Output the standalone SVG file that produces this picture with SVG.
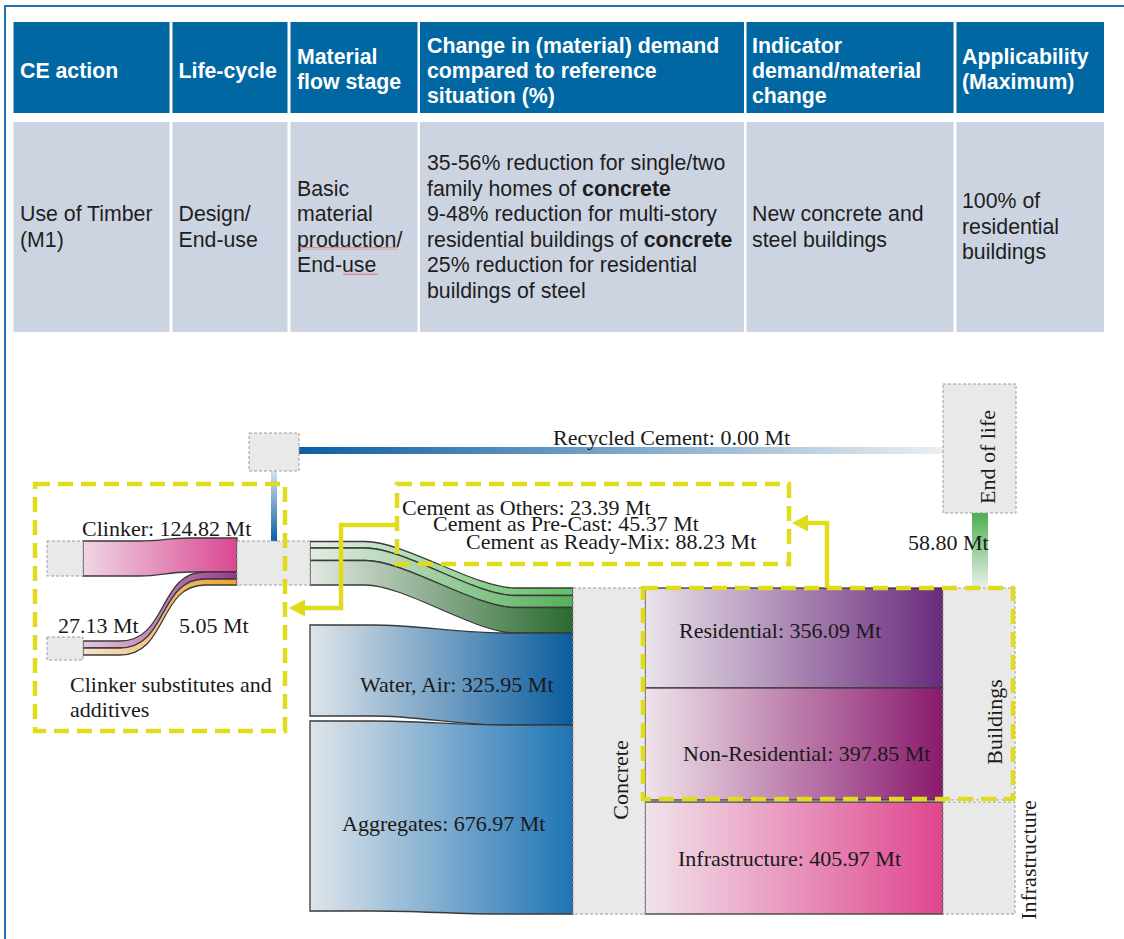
<svg xmlns="http://www.w3.org/2000/svg" width="1124" height="939" viewBox="0 0 1124 939">
<style>
.th{font-family:"Liberation Sans",Arial,sans-serif;font-size:21.3px;font-weight:bold;fill:#ffffff}
.td{font-family:"Liberation Sans",Arial,sans-serif;font-size:21.3px;fill:#1e1e1e}
.b{font-weight:bold}
.hd{fill:#0067a3}
.bd{fill:#cdd4e1}
.lbl{font-family:"Liberation Serif","Times New Roman",serif;font-size:22px;fill:#1a1a1a}
.node{fill:#e9e9e9;stroke:#9c9c9c;stroke-width:1;stroke-dasharray:3 2}
.flow{stroke:#3a3a3a;stroke-width:1.3}
.ybox{fill:none;stroke:#e0dc1c;stroke-width:4.5;stroke-dasharray:15 8}
.yarr{fill:none;stroke:#e0dc1c;stroke-width:4.5}
</style>
<defs>
<linearGradient id="gClinker" x1="0" y1="0" x2="1" y2="0"><stop offset="0" stop-color="#efd6e4"/><stop offset="1" stop-color="#da4792"/></linearGradient>
<linearGradient id="gPurple" x1="0" y1="0" x2="1" y2="0"><stop offset="0" stop-color="#e6c6de"/><stop offset="1" stop-color="#963a8a"/></linearGradient>
<linearGradient id="gOrange" x1="0" y1="0" x2="1" y2="0"><stop offset="0" stop-color="#f3e2cc"/><stop offset="1" stop-color="#f0a12e"/></linearGradient>
<linearGradient id="gGreenL" x1="0" y1="0" x2="1" y2="0"><stop offset="0" stop-color="#e6ede6"/><stop offset="1" stop-color="#62bf66"/></linearGradient>
<linearGradient id="gGreenM" x1="0" y1="0" x2="1" y2="0"><stop offset="0" stop-color="#e3ebe3"/><stop offset="1" stop-color="#55b05a"/></linearGradient>
<linearGradient id="gGreenD" x1="0" y1="0" x2="1" y2="0"><stop offset="0" stop-color="#e2e8e2"/><stop offset="1" stop-color="#2a6a2f"/></linearGradient>
<linearGradient id="gWater" x1="0" y1="0" x2="1" y2="0"><stop offset="0" stop-color="#dfe5ea"/><stop offset="1" stop-color="#0a5c9e"/></linearGradient>
<linearGradient id="gAgg" x1="0" y1="0" x2="1" y2="0"><stop offset="0" stop-color="#dfe5ea"/><stop offset="1" stop-color="#1f74b6"/></linearGradient>
<linearGradient id="gRes" x1="0" y1="0" x2="1" y2="0"><stop offset="0" stop-color="#e9e3ea"/><stop offset="1" stop-color="#6a2a7c"/></linearGradient>
<linearGradient id="gNon" x1="0" y1="0" x2="1" y2="0"><stop offset="0" stop-color="#efe3ea"/><stop offset="1" stop-color="#8a1a6e"/></linearGradient>
<linearGradient id="gInf" x1="0" y1="0" x2="1" y2="0"><stop offset="0" stop-color="#f1e3eb"/><stop offset="1" stop-color="#df468e"/></linearGradient>
<linearGradient id="gRec" x1="0" y1="0" x2="1" y2="0"><stop offset="0" stop-color="#0b5ea3"/><stop offset="1" stop-color="#eceff1"/></linearGradient>
<linearGradient id="gRecV" x1="0" y1="0" x2="0" y2="1"><stop offset="0" stop-color="#d3e2ec"/><stop offset="1" stop-color="#0b5ea3"/></linearGradient>
<linearGradient id="gEol" x1="0" y1="0" x2="0" y2="1"><stop offset="0" stop-color="#4caf50"/><stop offset="1" stop-color="#e9f2e9"/></linearGradient>
<pattern id="squig" width="4" height="3" patternUnits="userSpaceOnUse"><path d="M0,2.5 L2,0.5 L4,2.5" fill="none" stroke="#e0302a" stroke-width="0.8"/></pattern>
<marker id="yhead" markerUnits="userSpaceOnUse" viewBox="0 -9 17 18" markerWidth="17" markerHeight="18" refX="0" refY="0" orient="auto"><path d="M0,-8.5 L16,0 L0,8.5 Z" fill="#e0dc1c"/></marker>
</defs>

<path d="M5,939 V6 H1124" fill="none" stroke="#2371b5" stroke-width="2"/>

<g id="table">
<rect class="hd" x="13.5" y="22" width="156" height="91"/>
<rect class="hd" x="172.5" y="22" width="115" height="91"/>
<rect class="hd" x="290.5" y="22" width="127" height="91"/>
<rect class="hd" x="420" y="22" width="324" height="91"/>
<rect class="hd" x="746.5" y="22" width="207" height="91"/>
<rect class="hd" x="956.5" y="22" width="147.5" height="91"/>
<rect class="bd" x="13.5" y="122" width="156" height="210"/>
<rect class="bd" x="172.5" y="122" width="115" height="210"/>
<rect class="bd" x="290.5" y="122" width="127" height="210"/>
<rect class="bd" x="420" y="122" width="324" height="210"/>
<rect class="bd" x="746.5" y="122" width="207" height="210"/>
<rect class="bd" x="956.5" y="122" width="147.5" height="210"/>
<text class="th" x="20" y="78">CE action</text>
<text class="th" x="178.5" y="78">Life-cycle</text>
<text class="th" x="297" y="64">Material</text>
<text class="th" x="297" y="89">flow stage</text>
<text class="th" x="427" y="52.5">Change in (material) demand</text>
<text class="th" x="427" y="78">compared to reference</text>
<text class="th" x="427" y="103">situation (%)</text>
<text class="th" x="752" y="52.5">Indicator</text>
<text class="th" x="752" y="78">demand/material</text>
<text class="th" x="752" y="103">change</text>
<text class="th" x="962" y="64">Applicability</text>
<text class="th" x="962" y="89">(Maximum)</text>
<text class="td" x="20" y="221">Use of Timber</text>
<text class="td" x="20" y="246.5">(M1)</text>
<text class="td" x="178.5" y="221">Design/</text>
<text class="td" x="178.5" y="246.5">End-use</text>
<text class="td" x="297" y="195.5">Basic</text>
<text class="td" x="297" y="221">material</text>
<text class="td" x="297" y="246.5">production/</text>
<text class="td" x="297" y="272">End-use</text>
<rect x="297" y="247" width="101" height="3" fill="url(#squig)"/>
<rect x="343" y="272.5" width="35" height="3" fill="url(#squig)"/>
<text class="td" x="427" y="170">35-56% reduction for single/two</text>
<text class="td" x="427" y="195.5">family homes of <tspan class="b">concrete</tspan></text>
<text class="td" x="427" y="221">9-48% reduction for multi-story</text>
<text class="td" x="427" y="246.5">residential buildings of <tspan class="b">concrete</tspan></text>
<text class="td" x="427" y="272">25% reduction for residential</text>
<text class="td" x="427" y="297.5">buildings of steel</text>
<text class="td" x="752" y="221">New concrete and</text>
<text class="td" x="752" y="246.5">steel buildings</text>
<text class="td" x="962" y="208">100% of</text>
<text class="td" x="962" y="233.5">residential</text>
<text class="td" x="962" y="259">buildings</text>
</g>

<g id="connectors">
<rect x="299" y="447" width="644" height="7" fill="url(#gRec)"/>
<rect x="271" y="471" width="6" height="70" fill="url(#gRecV)"/>
<rect x="972" y="513" width="16" height="75" fill="url(#gEol)"/>
<path class="flow" fill="url(#gClinker)" d="M83,541 L140,541 C160,541 168,538 190,538 L237,538 L237,572 L190,572 C168,572 160,576 140,576 L83,576 Z"/>
<path class="flow" fill="url(#gPurple)" d="M83,641 L120,641 C168,641 158,572 205,572 L237,572 L237,579 L205,579 C158,579 168,648 120,648 L83,648 Z"/>
<path class="flow" fill="url(#gOrange)" d="M83,648 L120,648 C168,648 158,579 205,579 L237,579 L237,585 L205,585 C158,585 168,655 120,655 L83,655 Z"/>
<path class="flow" fill="url(#gGreenL)" d="M310,541.5 L365,541.5 C405,541.5 475,588 515,588 L573,588 L573,595.5 L515,595.5 C475,595.5 405,548 365,548 L310,548 Z"/>
<path class="flow" fill="url(#gGreenM)" d="M310,548 L365,548 C405,548 475,595.5 515,595.5 L573,595.5 L573,607.5 L515,607.5 C475,607.5 405,560.5 365,560.5 L310,560.5 Z"/>
<path class="flow" fill="url(#gGreenD)" d="M310,560.5 L365,560.5 C405,560.5 475,607.5 515,607.5 L573,607.5 L573,633 L515,633 C475,633 405,585 365,585 L310,585 Z"/>
<path class="flow" fill="url(#gWater)" d="M310,625 L372,625 C420,625 455,633 505,633 L573,633 L573,725 L505,725 C455,725 420,716 372,716 L310,716 Z"/>
<path class="flow" fill="url(#gAgg)" d="M310,721 L372,721 C420,721 455,725 505,725 L573,725 L573,914 L505,914 C455,914 420,911 372,911 L310,911 Z"/>
<rect class="flow" x="645" y="588" width="298" height="100" fill="url(#gRes)"/>
<rect class="flow" x="645" y="688" width="298" height="112" fill="url(#gNon)"/>
<rect class="flow" x="645" y="802" width="298" height="112" fill="url(#gInf)"/>
<text class="lbl" x="553" y="445">Recycled Cement: 0.00 Mt</text>
<text class="lbl" x="908" y="550">58.80 Mt</text>
<text class="lbl" x="82" y="536">Clinker: 124.82 Mt</text>
<text class="lbl" x="58" y="633">27.13 Mt</text>
<text class="lbl" x="179" y="633">5.05 Mt</text>
<text class="lbl" x="402" y="515">Cement as Others: 23.39 Mt</text>
<text class="lbl" x="433" y="531">Cement as Pre-Cast: 45.37 Mt</text>
<text class="lbl" x="466" y="549">Cement as Ready-Mix: 88.23 Mt</text>
<text class="lbl" x="360" y="692">Water, Air: 325.95 Mt</text>
<text class="lbl" x="342" y="831">Aggregates: 676.97 Mt</text>
<text class="lbl" x="679" y="638">Residential: 356.09 Mt</text>
<text class="lbl" x="683" y="760.5">Non-Residential: 397.85 Mt</text>
<text class="lbl" x="678" y="865.5">Infrastructure: 405.97 Mt</text>
</g>

<g id="node-recycle"><rect class="node" x="249" y="433" width="50" height="38"/></g>
<g id="node-clinker-src"><rect class="node" x="47" y="541" width="36" height="35"/></g>
<g id="node-substitutes"><rect class="node" x="47" y="637" width="36" height="23"/>
<text class="lbl" x="70" y="692">Clinker substitutes and</text>
<text class="lbl" x="70" y="717">additives</text></g>
<g id="node-cement"><rect class="node" x="237" y="541" width="73" height="44"/></g>
<g id="node-concrete"><rect class="node" x="573" y="588" width="72" height="326"/>
<text class="lbl" transform="translate(628,780) rotate(-90)" text-anchor="middle">Concrete</text></g>
<g id="node-buildings"><rect class="node" x="943" y="588" width="72" height="212"/>
<text class="lbl" transform="translate(1002,722) rotate(-90)" text-anchor="middle">Buildings</text></g>
<g id="node-infrastructure"><rect class="node" x="943" y="802" width="72" height="112"/>
<text class="lbl" transform="translate(1036,860) rotate(-90)" text-anchor="middle">Infrastructure</text></g>
<g id="node-eol"><rect class="node" x="943" y="384" width="73" height="129"/>
<text class="lbl" transform="translate(995,457) rotate(-90)" text-anchor="middle">End of life</text></g>

<g id="highlights">
<rect class="ybox" x="35" y="484" width="250" height="247"/>
<rect class="ybox" x="397" y="484" width="392" height="80"/>
<rect class="ybox" x="643" y="588" width="370" height="211"/>
<path class="yarr" d="M397,525 H341 V608 H305" marker-end="url(#yhead)"/>
<path class="yarr" d="M827,588 V523 H808" marker-end="url(#yhead)"/>
</g>
</svg>
